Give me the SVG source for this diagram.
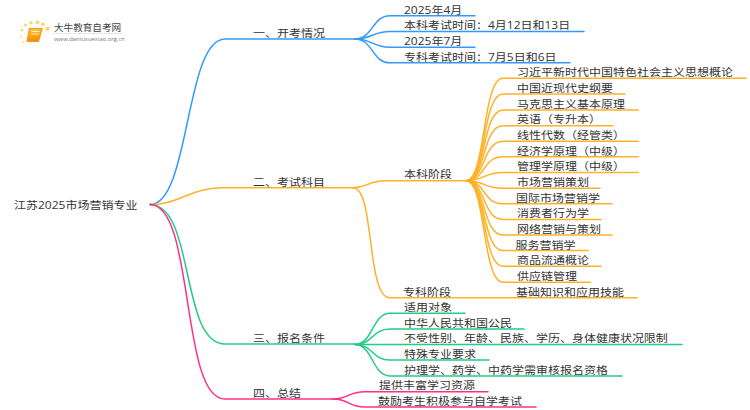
<svg xmlns="http://www.w3.org/2000/svg" width="750" height="410" viewBox="0 0 750 410">
<defs>
<linearGradient id="bk" x1="0" y1="0" x2="0" y2="1"><stop offset="0" stop-color="#ffc533"/><stop offset="1" stop-color="#f58a0c"/></linearGradient>
</defs>
<style>
text{font-family:"Open Sans","Noto Sans CJK SC",sans-serif;font-size:12px;fill:#333}
path{fill:none;stroke-width:1.5;stroke-linecap:round}
.b{stroke:#3399ff}.o{stroke:#ffb128}.g{stroke:#22cc88}.p{stroke:#ff2f88}
.d{fill:#ffd36b}
</style>
<rect width="750" height="410" fill="#fff"/>
<g id="logo">
<circle class="d" cx="47.500" cy="28.700" r="2.200"/><circle class="d" cx="43" cy="24.300" r="1.800"/><circle class="d" cx="37.500" cy="22.300" r="1.900"/><circle class="d" cx="31" cy="22.700" r="1.800"/><circle class="d" cx="25.500" cy="25" r="1.500"/><circle class="d" cx="22" cy="30" r="1.300"/><circle class="d" cx="21" cy="36.700" r="1"/><circle class="d" cx="23.500" cy="42.300" r="1"/>
<path d="M29.500 28.500H42L38.500 41.500H27Z" style="fill:url(#bk);stroke:#f39a1a;stroke-width:1.200"/>
<path d="M32 31.500H39M31.500 34H38" style="stroke:#fff2c8;stroke-width:1"/>
<text x="54" y="31" style="font-size:9.600px;fill:#444">大牛教育自考网</text>
<path d="M54 33.500H122" style="stroke:#ddd;stroke-width:.7"/>
<text x="54" y="41" style="font-size:5.900px;fill:#777">www.daniuxuexiao.org.cn</text>
</g>
<g id="connectors">
<path class="b" d="M150 204.500C190 204.500 185 39 225 39H355"/>
<path class="o" d="M150 204.500C180 204.500 190 187.700 222 187.700H353"/>
<path class="g" d="M150 204.500C195 204.500 180 344 225 344H355"/>
<path class="p" d="M150 204.500C195 204.500 180 399 225 399H333"/>
<path class="b" d="M355 39C373 39 372 15.700 390 15.700H475"/>
<path class="b" d="M355 39C373 39 372 31.500 390 31.500H584"/>
<path class="b" d="M355 39C373 39 372 47.300 390 47.300H475"/>
<path class="b" d="M355 39C373 39 372 62.800 390 62.800H570"/>
<path class="o" d="M353 187.700C368 187.700 368 180.700 385 180.700H466"/>
<path class="o" d="M353 187.700C375 187.700 366 297.800 390 297.800H637"/>
<path class="o" d="M466 180.700C486 180.700 482 78.300 503 78.300H746"/>
<path class="o" d="M466 180.700C486 180.700 482 94 503 94H625"/>
<path class="o" d="M466 180.700C486 180.700 482 110 503 110H638"/>
<path class="o" d="M466 180.700C486 180.700 482 125.700 503 125.700H613"/>
<path class="o" d="M466 180.700C486 180.700 482 141.200 503 141.200H638"/>
<path class="o" d="M466 180.700C486 180.700 482 156.700 503 156.700H638"/>
<path class="o" d="M466 180.700C486 180.700 482 172.400 503 172.400H638"/>
<path class="o" d="M466 180.700C486 180.700 482 188.200 503 188.200H600"/>
<path class="o" d="M466 180.700C486 180.700 482 203.700 503 203.700H612"/>
<path class="o" d="M466 180.700C486 180.700 482 219.500 503 219.500H601"/>
<path class="o" d="M466 180.700C486 180.700 482 235 503 235H612"/>
<path class="o" d="M466 180.700C486 180.700 482 250.600 503 250.600H588"/>
<path class="o" d="M466 180.700C486 180.700 482 266.300 503 266.300H601"/>
<path class="o" d="M466 180.700C486 180.700 482 282.300 503 282.300H590"/>
<path class="g" d="M355 344.500C373 344.500 372 313.300 390 313.300H465"/>
<path class="g" d="M355 344.500C373 344.500 372 329 390 329H524"/>
<path class="g" d="M355 344.500H682"/>
<path class="g" d="M355 344.500C373 344.500 372 360 390 360H489"/>
<path class="g" d="M355 344.500C373 344.500 372 376 390 376H622"/>
<path class="p" d="M333 399C350 399 347 391.700 365 391.700H488"/>
<path class="p" d="M333 399C350 399 347 407 365 407H536"/>
</g>
<g id="root"><text transform="translate(14 209.300) scale(1 .88)">江苏2025市场营销专业</text></g>
<g id="n1"><text transform="translate(253 37.300) scale(1 .88)">一、开考情况</text></g>
<g id="n1-1"><text transform="translate(404 13.800) scale(1 .88)">2025年4月</text></g>
<g id="n1-2"><text transform="translate(404 29.300) scale(1 .88)">本科考试时间：4月12日和13日</text></g>
<g id="n1-3"><text transform="translate(404 45.300) scale(1 .88)">2025年7月</text></g>
<g id="n1-4"><text transform="translate(404 60.800) scale(1 .88)">专科考试时间：7月5日和6日</text></g>
<g id="n2"><text transform="translate(253 186.300) scale(1 .88)">二、考试科目</text></g>
<g id="n2-1"><text transform="translate(404 178.300) scale(1 .88)">本科阶段</text></g>
<g id="n2-1-1"><text transform="translate(517 76.300) scale(1 .88)">习近平新时代中国特色社会主义思想概论</text></g>
<g id="n2-1-2"><text transform="translate(517 91.800) scale(1 .88)">中国近现代史纲要</text></g>
<g id="n2-1-3"><text transform="translate(517 107.800) scale(1 .88)">马克思主义基本原理</text></g>
<g id="n2-1-4"><text transform="translate(517 123.300) scale(1 .88)">英语（专升本）</text></g>
<g id="n2-1-5"><text transform="translate(517 139.300) scale(1 .88)">线性代数（经管类）</text></g>
<g id="n2-1-6"><text transform="translate(517 154.800) scale(1 .88)">经济学原理（中级）</text></g>
<g id="n2-1-7"><text transform="translate(517 170.300) scale(1 .88)">管理学原理（中级）</text></g>
<g id="n2-1-8"><text transform="translate(517 186.300) scale(1 .88)">市场营销策划</text></g>
<g id="n2-1-9"><text transform="translate(516 201.800) scale(1 .88)">国际市场营销学</text></g>
<g id="n2-1-10"><text transform="translate(517 217.300) scale(1 .88)">消费者行为学</text></g>
<g id="n2-1-11"><text transform="translate(517 233.300) scale(1 .88)">网络营销与策划</text></g>
<g id="n2-1-12"><text transform="translate(515.500 248.800) scale(1 .88)">服务营销学</text></g>
<g id="n2-1-13"><text transform="translate(517 264.300) scale(1 .88)">商品流通概论</text></g>
<g id="n2-1-14"><text transform="translate(517 280.300) scale(1 .88)">供应链管理</text></g>
<g id="n2-2"><text transform="translate(403 295.800) scale(1 .88)">专科阶段</text></g>
<g id="n2-2-1"><text transform="translate(516 295.800) scale(1 .88)">基础知识和应用技能</text></g>
<g id="n3"><text transform="translate(253 342.300) scale(1 .88)">三、报名条件</text></g>
<g id="n3-1"><text transform="translate(404 311.300) scale(1 .88)">适用对象</text></g>
<g id="n3-2"><text transform="translate(404 326.800) scale(1 .88)">中华人民共和国公民</text></g>
<g id="n3-3"><text transform="translate(404 342.300) scale(1 .88)">不受性别、年龄、民族、学历、身体健康状况限制</text></g>
<g id="n3-4"><text transform="translate(404 357.800) scale(1 .88)">特殊专业要求</text></g>
<g id="n3-5"><text transform="translate(404 373.800) scale(1 .88)">护理学、药学、中药学需审核报名资格</text></g>
<g id="n4"><text transform="translate(253 397.300) scale(1 .88)">四、总结</text></g>
<g id="n4-1"><text transform="translate(379 389.300) scale(1 .88)">提供丰富学习资源</text></g>
<g id="n4-2"><text transform="translate(378 405.300) scale(1 .88)">鼓励考生积极参与自学考试</text></g>
</svg>
